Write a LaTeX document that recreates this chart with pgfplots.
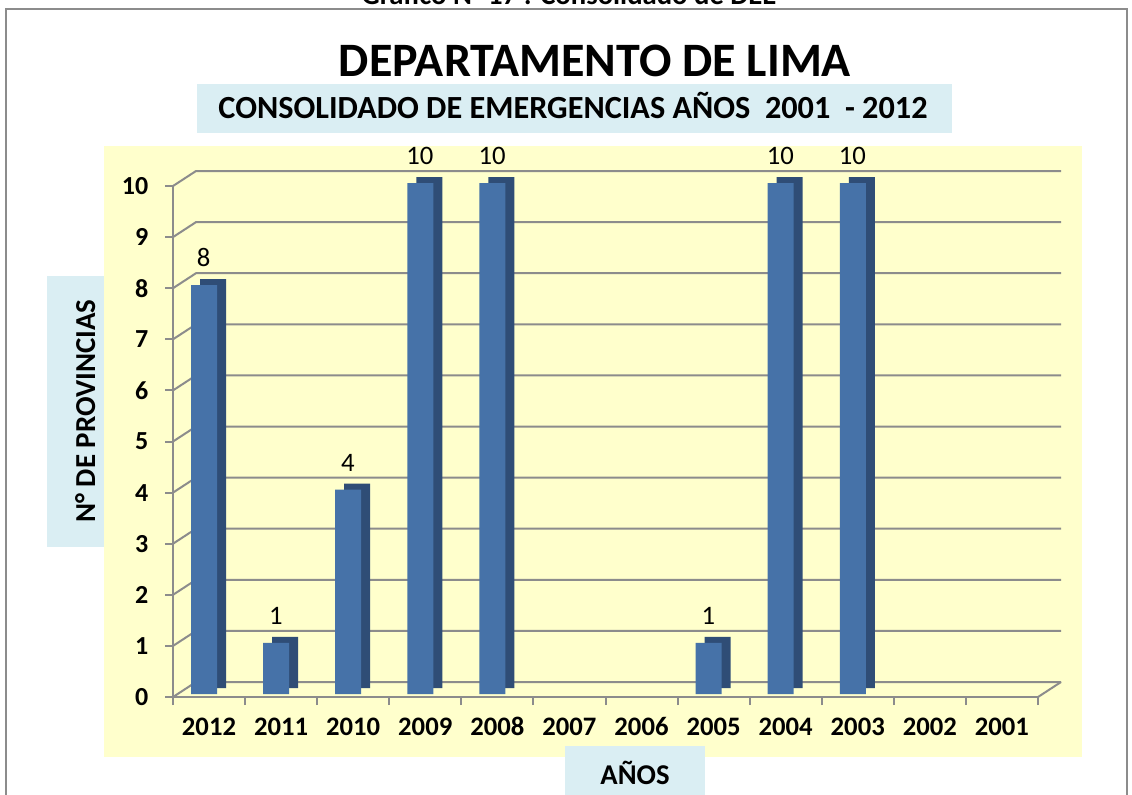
\documentclass[border=0pt]{standalone}
\usepackage{fontspec}
\setmainfont{Carlito}
\usepackage{pgfplots}
\usepackage{pgfplotstable}
\pgfplotsset{compat=1.18}
\definecolor{plotbg}{HTML}{FFFFCC}
\definecolor{boxbg}{HTML}{DAEEF3}
\definecolor{barfront}{HTML}{4672A8}
\definecolor{barside}{HTML}{2F4D76}
\definecolor{gridc}{HTML}{8C8C8C}
\pgfplotstableread{
idx year value
0 2012 8
1 2011 1
2 2010 4
3 2009 10
4 2008 10
5 2007 0
6 2006 0
7 2005 1
8 2004 10
9 2003 10
10 2002 0
11 2001 0
}\datatable
\begin{document}
\begin{tikzpicture}[x=0.75pt,y=-0.75pt]
\useasboundingbox (0,0) rectangle (1132,794);
\fill[white] (0,0) rectangle (1132,794);
\draw[gridc, line width=1.5pt] (6,800) -- (6,9) -- (1127,9) -- (1127,800);
\node[font=\bfseries\fontsize{21.5}{24}\selectfont, anchor=base] at (569,4) {Gráfico N° 17 : Consolidado de DEE};
\fill[plotbg] (104,146) rectangle (1082,757);
\node[font=\bfseries\fontsize{36}{40}\selectfont, anchor=base] at (595,76) {DEPARTAMENTO DE LIMA};
\fill[boxbg] (197,84) rectangle (952,133);
\node[font=\bfseries\fontsize{24.2}{27}\selectfont, anchor=base] at (573,118) {CONSOLIDADO DE EMERGENCIAS AÑOS\ \ 2001\ \ - 2012};
\fill[boxbg] (47,276) rectangle (104,547);
\node[font=\bfseries\fontsize{21.7}{24}\selectfont, anchor=base, rotate=90] at (95,411) {N° DE PROVINCIAS};
\fill[boxbg] (565,746) rectangle (705,800);
\node[font=\bfseries\fontsize{21.5}{24}\selectfont, anchor=base] at (635,784) {AÑOS};
\begin{axis}[
  at={(129.75pt,-522.75pt)}, anchor=south west,
  scale only axis, width=648.75pt, height=383.25pt,
  xmin=-0.5, xmax=11.5, ymin=0, ymax=10,
  clip=false,
  axis x line*=bottom, axis y line*=left,
  axis line style={gridc, line width=1.5pt, -},
  tick style={gridc, line width=1.5pt},
  major tick length=6pt, tick align=outside,
  xtick={-0.5,0.5,...,11.5},
  xticklabels={2012,2011,2010,2009,2008,2007,2006,2005,2004,2003,2002,2001,{}},
  xticklabel style={font=\bfseries\fontsize{20}{22}\selectfont, xshift=27pt, yshift=-5pt, text height=14pt, text depth=0pt},
  ytick={0,1,...,10},
  yticklabel style={font=\bfseries\fontsize{19.5}{22}\selectfont, xshift=-9pt},
  /pgf/number format/assume math mode=true,
  unbounded coords=discard,
]
\pgfplotsinvokeforeach{0,...,10}{
  \draw[gridc, line width=1.5pt] (axis cs:-0.5,#1) -- ([shift={(17.25pt,11.25pt)}]axis cs:-0.5,#1) -- ([shift={(17.25pt,11.25pt)}]axis cs:11.5,#1);
}
\draw[gridc, line width=1.5pt] (axis cs:11.5,0) -- ([shift={(17.25pt,11.25pt)}]axis cs:11.5,0);
\addplot[ybar, bar width=19.5pt, bar shift=3pt, fill=barside, draw=none, yshift=6.75pt,
  y filter/.expression={y==0 ? nan : y}] table[x=idx, y=value] {\datatable};
\addplot[ybar, bar width=19.5pt, bar shift=-3.75pt, fill=barfront, draw=none, yshift=2.25pt,
  y filter/.expression={y==0 ? nan : y},
  nodes near coords, point meta=explicit symbolic,
  every node near coord/.append style={font=\fontsize{20}{22}\selectfont, text=black, anchor=south, yshift=10pt, xshift=-4pt}]
  table[x=idx, y=value, meta=value] {\datatable};
\end{axis}
\end{tikzpicture}
\end{document}
